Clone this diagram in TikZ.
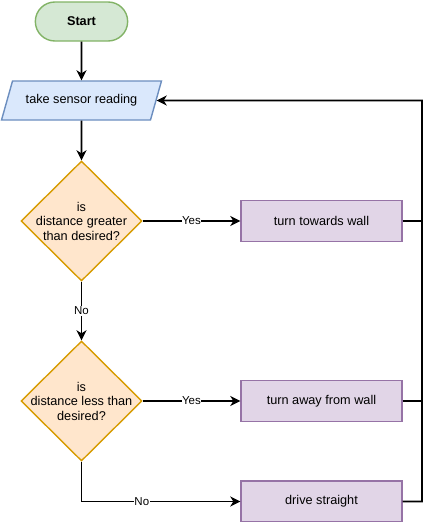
\documentclass[tikz,border=0pt]{standalone}
\usepackage{fontspec}
\setmainfont{Liberation Sans}
\usepackage{tikz}
\usetikzlibrary{shapes.geometric, shapes.misc}
\usetikzlibrary{arrows.meta}
\usetikzlibrary{positioning}
\usetikzlibrary{calc}

\definecolor{startfill}{HTML}{D5E8D4}
\definecolor{startline}{HTML}{82B366}
\definecolor{iofill}{HTML}{DAE8FC}
\definecolor{ioline}{HTML}{6C8EBF}
\definecolor{askfill}{HTML}{FFE6CC}
\definecolor{askline}{HTML}{D79B00}
\definecolor{procfill}{HTML}{E1D5E7}
\definecolor{procline}{HTML}{9673A6}

\newcommand{\txt}{\fontsize{12.7}{14.5}\selectfont}

\begin{document}
\begin{tikzpicture}[x=1pt, y=-1pt,
    startstop/.style={rounded rectangle, draw=startline, fill=startfill, line width=1.4pt, minimum width=99pt, minimum height=39pt, font=\txt\bfseries},
    io/.style={trapezium, trapezium left angle=63, trapezium right angle=117, trapezium stretches=true, draw=ioline, fill=iofill, line width=1.4pt, minimum width=160pt, minimum height=39pt, font=\txt},
    decision/.style={diamond, draw=askline, fill=askfill, line width=1.4pt, inner sep=0pt, minimum width=121pt, minimum height=120pt},
    asktext/.style={align=center, font=\txt},
    process/.style={rectangle, draw=procline, fill=procfill, line width=1.4pt, minimum width=161pt, minimum height=41pt, font=\txt},
    flow/.style={line width=1.8pt, -{Stealth[length=10pt, width=10pt, inset=3pt]}},
    wire/.style={line width=1.8pt},
    lbl/.style={fill=white, inner sep=0.5pt, font=\fontsize{11.5}{13}\selectfont}]
  \useasboundingbox (0,0) rectangle (430,522);

  \node[startstop] (start) at (81.5, 21.5) {Start};
  \node[io] (read) at (81.5, 100.5) {take sensor reading};

  \node[decision, label={[asktext]center:{is\\distance greater\\than desired?}}] (greater) at (81.5, 221) {};
  \node[decision, label={[asktext]center:{is\\distance less than\\desired?}}] (less) at (81.5, 401) {};

  \node[process] (towards) at (321.5, 221) {turn towards wall};
  \node[process] (away) at (321.5, 401) {turn away from wall};
  \node[process] (straight) at (321.5, 501.5) {drive straight};

  \coordinate (back) at (422, 100.5);

  \draw[flow] (start) -- (read);
  \draw[flow] (read) -- (greater);
  \draw[flow] (greater) -- node[lbl] {Yes} (towards);
  \draw[flow] (greater) -- node[lbl] {No} (less);
  \draw[flow] (less) -- node[lbl] {Yes} (away);
  \draw[flow] (less.south) |- node[lbl, pos=0.69] {No} (straight.west);

  \draw[flow] (straight.east) -| (back) -- (read.east);
  \draw[wire] (towards.east) -- (towards.east -| back);
  \draw[wire] (away.east) -- (away.east -| back);
\end{tikzpicture}
\end{document}
